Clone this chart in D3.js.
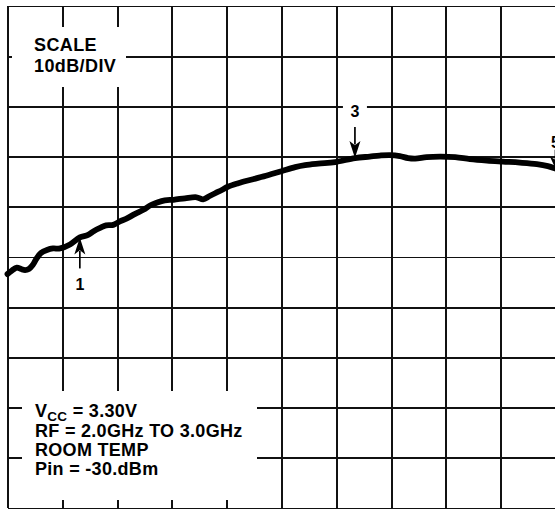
<!DOCTYPE html>
<html>
<head>
<meta charset="utf-8">
<script src="https://cdn.jsdelivr.net/npm/d3@7"></script>
<style>
  html, body { margin: 0; padding: 0; background: #fff; }
  svg { display: block; }
  text { font-family: "Liberation Sans", Arial, Helvetica, sans-serif; font-weight: bold; fill: #000; }
</style>
</head>
<body>
<div id="chart"></div>
<script>
// sweep 2.0GHz .. 3.0GHz, 10dB/div, reference at top of screen
const freqTicks = [2.0, 2.1, 2.2, 2.3, 2.4, 2.5, 2.6, 2.7, 2.8, 2.9, 3.0];
const levelTicks = [0, -10, -20, -30, -40, -50, -60, -70, -80, -90, -100];

const freqGHz = [2.000, 2.008, 2.017, 2.025, 2.032, 2.039, 2.046, 2.053, 2.061, 2.072,
  2.083, 2.096, 2.114, 2.132, 2.147, 2.158, 2.169, 2.180, 2.193, 2.205,
  2.218, 2.233, 2.248, 2.261, 2.272, 2.287, 2.303, 2.324, 2.345, 2.357,
  2.368, 2.379, 2.392, 2.402, 2.421, 2.448, 2.475, 2.500, 2.525, 2.543,
  2.567, 2.598, 2.634, 2.661, 2.679, 2.698, 2.716, 2.731, 2.744, 2.765,
  2.789, 2.817, 2.844, 2.875, 2.904, 2.935, 2.966, 2.986, 3.000];
const levelDb = [-53.4, -52.7, -52.1, -52.4, -52.6, -52.4, -51.6, -50.3, -49.2, -48.6,
  -48.3, -48.3, -47.5, -46.1, -45.6, -44.8, -44.2, -43.7, -43.6, -42.9,
  -42.3, -41.4, -40.6, -39.7, -39.2, -38.7, -38.6, -38.3, -38.1, -38.5,
  -37.9, -37.3, -36.6, -36.0, -35.3, -34.5, -33.7, -32.9, -32.1, -31.7,
  -31.4, -31.1, -30.3, -30.0, -29.8, -29.7, -29.9, -30.3, -30.4, -30.1,
  -30.0, -30.1, -30.5, -30.8, -31.0, -31.2, -31.5, -31.9, -32.4];

const markerIds = ['1', '3', '5'];
const markerFreqs = [2.132, 2.634, 3.0];

const scaleLines = ['SCALE', '10dB/DIV'];
const condLines = ['RF = 2.0GHz TO 3.0GHz', 'ROOM TEMP', 'Pin = -30.dBm'];

const width = 555, height = 511;
const plot = {left: 7.5, right: 555.5, top: 6, bottom: 508};

// arrow geometry for each marker: dir 1 = arrow from below, -1 = from above
const markerGeom = {
  '1': {dir: 1, len: 31, label: 53},
  '3': {dir: -1, len: 31, label: 41.5},
  '5': {dir: -1, len: 19, label: 21}
};

const x = d3.scaleLinear().domain([2.0, 3.0]).range([plot.left, plot.right]);
const y = d3.scaleLinear().domain([0, -100]).range([plot.top, plot.bottom]);

const svg = d3.select('#chart').append('svg')
  .attr('width', width)
  .attr('height', height);

// grid
const gx = svg.append('g')
  .attr('class', 'grid gridX')
  .attr('transform', 'translate(0,' + plot.bottom + ')')
  .call(d3.axisBottom(x)
    .tickValues(freqTicks)
    .tickSize(-(plot.bottom - plot.top))
    .tickSizeOuter(0)
    .tickFormat(''));
gx.select('.domain').remove();

const gy = svg.append('g')
  .attr('class', 'grid gridY')
  .attr('transform', 'translate(' + plot.left + ',0)')
  .call(d3.axisLeft(y)
    .tickValues(levelTicks)
    .tickSize(-(plot.right - plot.left))
    .tickSizeOuter(0)
    .tickFormat(''));
gy.select('.domain').remove();

svg.selectAll('.grid .tick line')
  .attr('stroke', '#111')
  .attr('stroke-width', 1.9)
  .attr('shape-rendering', 'crispEdges');

// annotation boxes knock out the grid
svg.append('rect').attr('x', 12).attr('y', 27).attr('width', 114).attr('height', 60).attr('fill', '#fff');
svg.append('rect').attr('x', 22).attr('y', 391).attr('width', 235).attr('height', 109).attr('fill', '#fff');

const tScale = svg.append('g');
scaleLines.forEach((s, i) => {
  tScale.append('text')
    .attr('x', 34)
    .attr('y', 51 + i * 20.7)
    .attr('font-size', 18)
    .attr('letter-spacing', 0.4)
    .text(s);
});

const tCond = svg.append('g');
const vcc = tCond.append('text')
  .attr('x', 35)
  .attr('y', 416.5)
  .attr('font-size', 18)
  .attr('letter-spacing', 0.3);
vcc.append('tspan').text('V');
vcc.append('tspan').attr('font-size', 13.5).attr('dy', 4).text('CC');
vcc.append('tspan').attr('dy', -4).text(' = 3.30V');

condLines.forEach((s, i) => {
  tCond.append('text')
    .attr('x', 35)
    .attr('y', 436.5 + i * 19.3)
    .attr('font-size', 18)
    .attr('letter-spacing', 0.3)
    .text(s);
});

// trace
const trace = freqGHz.map((f, i) => [f, levelDb[i]]);
const line = d3.line()
  .x(d => x(d[0]))
  .y(d => y(d[1]))
  .curve(d3.curveCatmullRom.alpha(0.5));

svg.append('path')
  .datum(trace)
  .attr('fill', 'none')
  .attr('stroke', '#000')
  .attr('stroke-width', 5.8)
  .attr('stroke-linejoin', 'round')
  .attr('stroke-linecap', 'round')
  .attr('d', line);

// markers
const levelAt = f => {
  const i = Math.max(1, d3.bisectLeft(freqGHz, f));
  const j = Math.min(i, freqGHz.length - 1);
  const f0 = freqGHz[j - 1], f1 = freqGHz[j];
  const t = f1 === f0 ? 0 : (f - f0) / (f1 - f0);
  return levelDb[j - 1] + t * (levelDb[j] - levelDb[j - 1]);
};

markerIds.forEach((id, i) => {
  const g = markerGeom[id];
  const mx = x(markerFreqs[i]);
  const tip = y(levelAt(markerFreqs[i]));
  const dir = g.dir;
  const head = Math.min(17, g.len * 0.62);
  const mg = svg.append('g').attr('class', 'marker');

  const ly = tip + dir * g.label;
  if (id === '3') {
    mg.append('rect')
      .attr('x', mx - 12).attr('y', ly - 14)
      .attr('width', 24).attr('height', 18)
      .attr('fill', '#fff');
  }
  mg.append('line')
    .attr('x1', mx).attr('x2', mx)
    .attr('y1', tip + dir * g.len).attr('y2', tip + dir * head * 0.8)
    .attr('stroke', '#000')
    .attr('stroke-width', 1.7);
  mg.append('path')
    .attr('d', 'M' + mx + ',' + tip +
      'L' + (mx - 5.5) + ',' + (tip + dir * head) +
      'L' + mx + ',' + (tip + dir * head * 0.75) +
      'L' + (mx + 5.5) + ',' + (tip + dir * head) + 'Z')
    .attr('fill', '#000');
  mg.append('text')
    .attr('x', mx)
    .attr('y', ly)
    .attr('text-anchor', 'middle')
    .attr('font-size', 16)
    .text(id);
});
</script>
</body>
</html>
